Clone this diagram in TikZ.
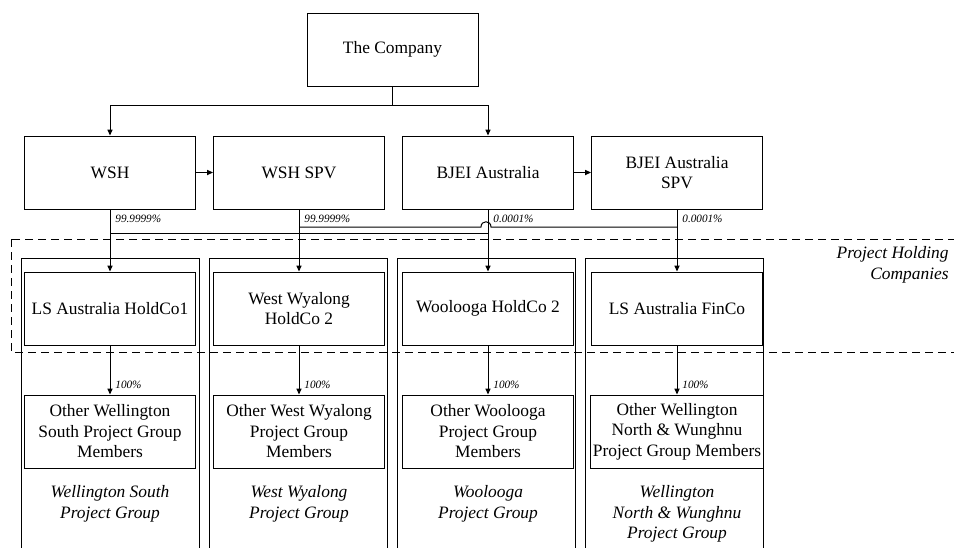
\documentclass[tikz,border=0pt]{standalone}
\usepackage{fontspec}
\setmainfont{Liberation Serif}
\usetikzlibrary{positioning}
\usetikzlibrary{arrows.meta}
\tikzset{entity/.style={rectangle,draw=black,fill=white,line width=0.5pt,
inner sep=1pt,minimum height=36.5pt,minimum width=85.5pt,align=center,
font=\fontsize{8.7}{10.25}\selectfont}}
\tikzset{pct/.style={inner sep=0pt,font=\fontsize{5.6}{6}\selectfont\itshape}}
\tikzset{grouplabel/.style={inner sep=0pt,align=center,
font=\fontsize{8.7}{10.25}\selectfont\itshape}}
\tikzset{own/.style={line width=0.5pt,-{Triangle[length=3pt,width=2.6pt]}}}

\begin{document}
\begin{tikzpicture}[x=0.5pt,y=-0.5pt]
    \useasboundingbox (0,0) rectangle (954,547);

    % project group frames
    \foreach \cx in {110,298,486,674}
        \draw[line width=0.5pt] (\cx-89,258) rectangle (\cx+89,560);

    % project holding companies
    \draw[line width=0.5pt,dash pattern=on 4pt off 2.5pt] (11,239) rectangle (975,352);
    \node[grouplabel,anchor=east,align=right] (phc) at (949,265) {Project Holding\\Companies};

    \node[entity] (company) at (392.5,49.5) {The Company};

    \node[entity] (wsh) at (110,172.5) {WSH};
    \node[entity] (wshspv) [right=8.5pt of wsh] {WSH SPV};
    \node[entity] (bjei) [right=8.5pt of wshspv] {BJEI Australia};
    \node[entity] (spv) [right=8.5pt of bjei] {BJEI Australia\\SPV};

    \node[entity] (hc1) [below=31pt of wsh] {LS Australia HoldCo1};
    \node[entity] (hc2) [below=31pt of wshspv] {West Wyalong\\HoldCo 2};
    \node[entity] (hc3) [below=31pt of bjei] {Woolooga HoldCo 2};
    \node[entity] (hc4) [below=31pt of spv] {LS Australia FinCo};

    \node[entity] (oth1) [below=24.5pt of hc1] {Other Wellington\\South Project Group\\Members};
    \node[entity] (oth2) [below=24.5pt of hc2] {Other West Wyalong\\Project Group\\Members};
    \node[entity] (oth3) [below=24.5pt of hc3] {Other Woolooga\\Project Group\\Members};
    \node[entity] (oth4) [below=24.5pt of hc4] {Other Wellington\\North \& Wunghnu\\Project Group Members};

    \node[grouplabel] (grp1) [below=8.5pt of oth1] {Wellington South\\Project Group};
    \node[grouplabel] (grp2) [below=8.5pt of oth2] {West Wyalong\\Project Group};
    \node[grouplabel] (grp3) [below=8.5pt of oth3] {Woolooga\\Project Group};
    \node[grouplabel] (grp4) [below=8.5pt of oth4] {Wellington\\North \& Wunghnu\\Project Group};

    % ownership
    \draw[own] (company.south) -- ++(0,19) -| (wsh.north);
    \draw[own] (company.south) -- ++(0,19) -| (bjei.north);
    \draw[own] (wsh.east) -- (wshspv.west);
    \draw[own] (bjei.east) -- (spv.west);

    \draw[own] (wsh.south) -- (hc1.north);
    \draw[own] (wshspv.south) -- (hc2.north);
    \draw[own] (bjei.south) -- (hc3.north);
    \draw[own] (spv.south) -- (hc4.north);

    \draw[line width=0.5pt] (wsh.south |- 0,233) -- (bjei.south |- 0,233);
    \coordinate (hopl) at (481,227);
    \coordinate (hopr) at (491,227);
    \draw[line width=0.5pt] (wshspv.south |- 0,227) -- (hopl)
        .. controls (481,220) and (491,220) .. (hopr) -- (spv.south |- 0,227);

    \node[pct,anchor=west] (pwsh) at ([xshift=2.5pt,yshift=-4.5pt]wsh.south) {99.9999\%};
    \node[pct,anchor=west] (pwshspv) at ([xshift=2.5pt,yshift=-4.5pt]wshspv.south) {99.9999\%};
    \node[pct,anchor=west] (pbjei) at ([xshift=2.5pt,yshift=-4.5pt]bjei.south) {0.0001\%};
    \node[pct,anchor=west] (pspv) at ([xshift=2.5pt,yshift=-4.5pt]spv.south) {0.0001\%};

    \foreach \n in {1,...,4} {
        \draw[own] (hc\n.south) -- (oth\n.north);
        \node[pct,anchor=west] (p\n) at ([xshift=2.5pt,yshift=5pt]oth\n.north) {100\%};
    }

\end{tikzpicture}
\end{document}
